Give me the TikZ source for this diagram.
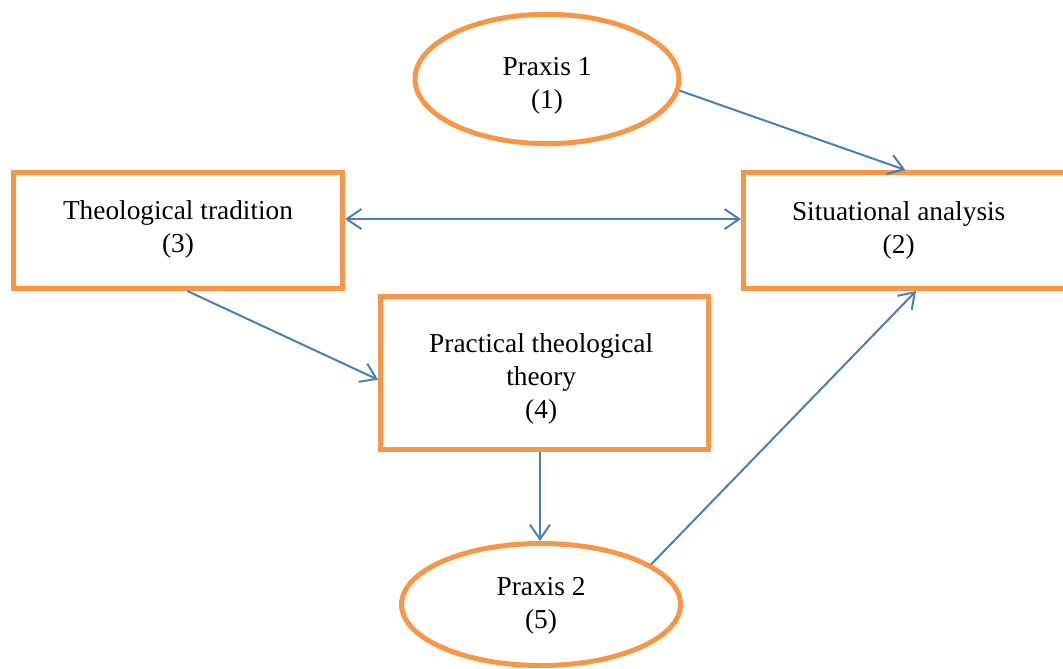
\documentclass[tikz,border=0pt]{standalone}
\usepackage{fontspec}
\setmainfont{Liberation Serif}
\usetikzlibrary{shapes.geometric,arrows.meta}
\definecolor{boxorange}{HTML}{F79646}
\definecolor{linkblue}{HTML}{4A7EBB}
\begin{document}
\begin{tikzpicture}[x=0.75pt,y=-0.75pt,
  every node/.style={font=\fontsize{20.5pt}{25pt}\selectfont,align=center,text=black},
  stagebox/.style={draw=boxorange,line width=3.75pt,rectangle,inner sep=0pt},
  praxis/.style={draw=boxorange,line width=3.75pt,ellipse,inner sep=0pt},
  link/.style={draw=linkblue,line width=1.5pt,-{Straight Barb[length=11pt,width=15pt]}},
  biglink/.style={draw=linkblue,line width=1.5pt,{Straight Barb[length=11pt,width=15pt]}-{Straight Barb[length=11pt,width=15pt]}}]
  \clip (0,0) rectangle (1063,668);
  \path[use as bounding box] (0,0) rectangle (1063,668);

  % stages of the cycle
  \node[praxis,minimum width=198pt,minimum height=97pt,
        label={[yshift=-5pt]center:Praxis 1\\(1)}] (p1) at (547,79) {};
  \node[stagebox,minimum width=246.75pt,minimum height=87pt,
        label={[yshift=1pt]center:Theological tradition\\(3)}] (t) at (178,230.5) {};
  \node[stagebox,minimum width=246.75pt,minimum height=87pt,
        label={[xshift=-7pt]center:Situational analysis\\(2)}] (s) at (908,230.5) {};
  \node[stagebox,minimum width=246pt,minimum height=114.75pt,
        label={[xshift=-2.5pt,yshift=-4.5pt]center:Practical theological\\theory\\(4)}] (pr) at (544.5,373) {};
  \node[praxis,minimum width=209.25pt,minimum height=91.5pt,
        label={[yshift=-1pt]center:Praxis 2\\(5)}] (p2) at (541,604.5) {};

  % connections
  \draw[link] (p1.-5) -- ([xshift=-2pt]s.north);
  \draw[biglink] ([yshift=8.6pt]t.east) -- ([yshift=8.6pt]s.west);
  \draw[link] ([xshift=7pt]t.south) -- ([yshift=-5pt]pr.west);
  \draw[link] ([xshift=-0.75pt]p2.north |- pr.south) -- ([xshift=-0.75pt]p2.north);
  \draw[link] (p2.20) -- ([xshift=6pt]s.south);
\end{tikzpicture}
\end{document}
